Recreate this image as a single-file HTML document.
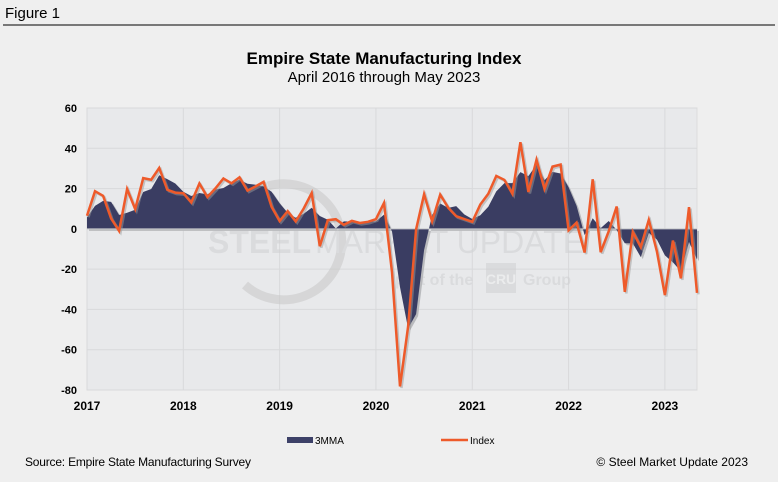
<!DOCTYPE html>
<html><head><meta charset="utf-8"><style>
body{margin:0;width:778px;height:482px;background:#efefef;font-family:"Liberation Sans",sans-serif;overflow:hidden}
svg{display:block}
</style></head><body>
<svg width="778" height="482">
<text x="5" y="18" font-size="15" fill="#000">Figure 1</text>
<rect x="3" y="24.5" width="772" height="1" fill="#000"/>
<text x="384" y="64" font-size="17" font-weight="bold" text-anchor="middle">Empire State Manufacturing Index</text>
<text x="384" y="82" font-size="15" text-anchor="middle">April 2016 through May 2023</text>
<rect x="87" y="108" width="610" height="282" fill="#e8e9eb" stroke="#dcdcdc"/>
<g id="grid"></g>
<g opacity="0.55">
<path d="M268,186 A58,58 0 1 1 245,285" fill="none" stroke="#c8c8c8" stroke-width="9"/>
<text x="208" y="253" font-size="32" font-weight="bold" fill="#cfd0d2">STEEL</text>
<text x="315" y="253" font-size="32" fill="#cfd0d2">MARKET UPDATE</text>
<text x="395" y="285" font-size="16" font-weight="bold" fill="#cfd0d2">part of the</text>
<rect x="486" y="263" width="30" height="30" fill="#cfd0d2"/>
<text x="501" y="284" font-size="14" font-weight="bold" fill="#efefef" text-anchor="middle">CRU</text>
<text x="523" y="285" font-size="16" font-weight="bold" fill="#cfd0d2">Group</text>
</g>
<g id="series"></g>
<g id="axes"></g>
<g>
<rect x="287" y="437" width="26" height="6" fill="#3d4168"/>
<text x="315" y="444" font-size="10">3MMA</text>
<line x1="441" y1="440" x2="468" y2="440" stroke="#ee5a2a" stroke-width="2.5"/>
<text x="470" y="444" font-size="10">Index</text>
</g>
<text x="25" y="466" font-size="12" textLength="226">Source: Empire State Manufacturing Survey</text>
<text x="748" y="466" font-size="12" text-anchor="end">© Steel Market Update 2023</text>
</svg>
<script>
const years=["2017","2018","2019","2020","2021","2022","2023"];
const yTicks=[60,40,20,0,-20,-40,-60,-80];
const indexVals=[6.5,18.7,16.4,5.2,-1.0,19.8,9.8,25.2,24.4,30.2,19.4,18.0,
17.7,13.1,22.5,15.8,20.1,25.0,22.6,25.6,19.0,21.1,23.3,10.9,
3.9,8.8,3.7,10.1,17.8,-8.6,4.3,4.8,2.0,4.0,2.9,3.5,
4.8,12.9,-21.5,-78.2,-48.5,-0.2,17.2,3.7,17.0,10.5,6.3,4.9,
3.5,12.1,17.4,26.3,24.3,17.4,43.0,18.3,34.3,19.8,30.9,31.9,
-0.7,3.1,-11.8,24.6,-11.6,-1.2,11.1,-31.3,-1.5,-9.1,4.5,-11.2,
-32.9,-5.8,-24.6,10.8,-31.8];
const mmaVals=[5.7,11.4,13.9,13.4,6.9,8.0,9.5,18.3,19.8,26.6,24.7,22.5,
18.4,16.3,17.8,17.1,19.5,20.3,22.6,24.4,22.4,21.9,21.1,18.4,
12.7,7.9,5.5,7.5,10.5,6.4,4.5,0.2,3.7,3.6,3.0,3.5,
3.7,7.1,-1.3,-28.9,-49.4,-42.3,-10.5,6.9,12.6,10.4,11.3,7.2,
4.9,6.8,11.0,18.6,22.7,22.7,28.2,26.2,31.9,24.1,28.3,27.5,
20.7,11.4,-3.1,5.3,0.4,3.9,-0.6,-7.1,-7.2,-14.0,-2.0,-5.3,
-13.2,-16.6,-21.1,-6.5,-15.2];
const NS="http://www.w3.org/2000/svg";
const X0=87,X1=697,Y0=108,Y1=390,vMax=60,vMin=-80;
const n=indexVals.length;
function xs(i){return X0+(X1-X0)*i/(n-1);}
function ys(v){return Y0+(vMax-v)/(vMax-vMin)*(Y1-Y0);}
function mk(tag,attrs,parent){const e=document.createElementNS(NS,tag);for(const k in attrs)e.setAttribute(k,attrs[k]);parent.appendChild(e);return e;}
const grid=document.getElementById('grid'),axes=document.getElementById('axes'),series=document.getElementById('series');
yTicks.forEach(t=>{
 const l=mk('line',{x1:X0,x2:X1,y1:ys(t),y2:ys(t),stroke:'#d8d9db','stroke-width':1},grid);
 
 
 const tx=mk('text',{x:77,y:ys(t)+4,'font-size':11,'font-weight':'bold','text-anchor':'end'},axes);
 tx.textContent=t;
 
 
});
years.forEach((y,k)=>{
 const x=xs(k*12);
 const l=mk('line',{x1:x,x2:x,y1:Y0,y2:Y1,stroke:'#d8d9db','stroke-width':1},grid);
 
 
 const tx=mk('text',{x:x,y:410,'font-size':12,'font-weight':'bold','text-anchor':'middle'},axes);
 tx.textContent=y;
 
 
});
let d='M'+xs(0)+','+ys(0);
mmaVals.forEach((v,i)=>{d+=' L'+xs(i).toFixed(1)+','+ys(v).toFixed(1);});
d+=' L'+xs(n-1)+','+ys(0)+' Z';
const sh=mk('path',{d:d,fill:'#b9babd',transform:'translate(2,2)'},series);


const area=mk('path',{d:d,fill:'#3a3d62'},series);


const zl=mk('line',{x1:X0,x2:X1,y1:ys(0),y2:ys(0),stroke:'#c8c9cc','stroke-width':1},series);


const pts=indexVals.map((v,i)=>xs(i).toFixed(1)+','+ys(v).toFixed(1)).join(' ');
const ls=mk('polyline',{points:pts,fill:'none',stroke:'#9a9a9a','stroke-opacity':0.5,'stroke-width':2.5,transform:'translate(1.5,1.5)','stroke-linejoin':'miter'},series);


const line=mk('polyline',{points:pts,fill:'none',stroke:'#ee5a2a','stroke-width':2.5,'stroke-linejoin':'miter'},series);


</script>
</body></html>
